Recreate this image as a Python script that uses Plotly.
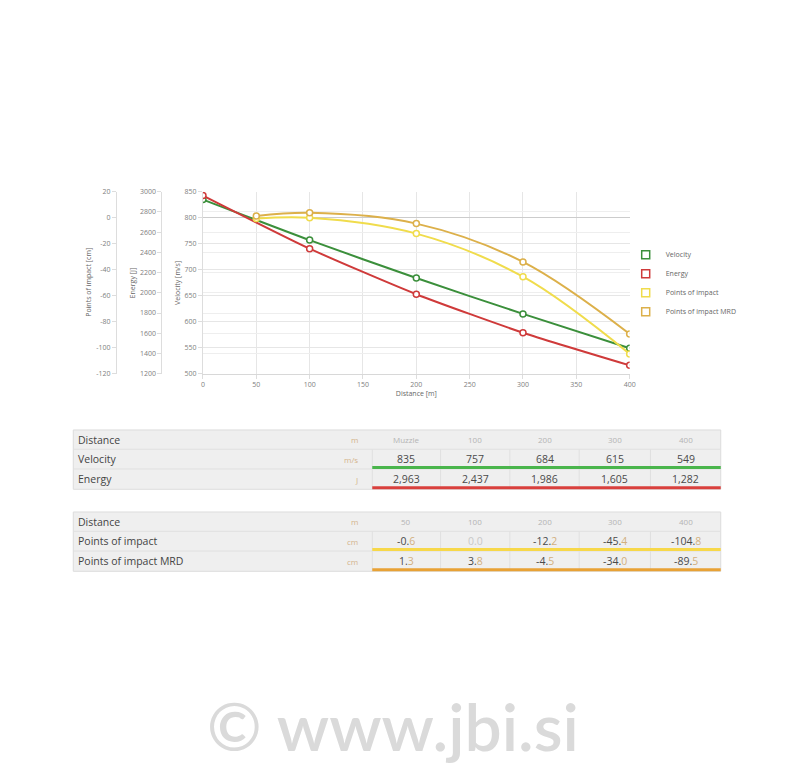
import plotly.graph_objects as go

W, H = 800, 768

# ---------------- data ----------------
dist_ve = [0, 100, 200, 300, 400]
velocity = [835, 757, 684, 615, 549]
energy = [2963, 2437, 1986, 1605, 1282]

dist_poi = [50, 100, 200, 300, 400]
poi = [-0.6, 0.0, -12.2, -45.4, -104.8]
poi_mrd = [1.3, 3.8, -4.5, -34.0, -89.5]

x_ticks = [0, 50, 100, 150, 200, 250, 300, 350, 400]
poi_ticks = [20, 0, -20, -40, -60, -80, -100, -120]
table1_header = ["Muzzle", "100", "200", "300", "400"]
table2_header = ["50", "100", "200", "300", "400"]

# ---------------- styles ----------------
C_VEL = "#3b8f3b"
C_EN = "#cf3a3a"
C_POI = "#f0dc4c"
C_MRD = "#dcb04a"
U_VEL = "#4ab54c"
U_EN = "#d9403d"
U_POI = "#f7d84a"
U_MRD = "#e8a236"
GRID = "#e6e6e6"
TICKF = dict(family="Open Sans", size=7, color="#808080")
FONT = "Open Sans"


def px(x):
    return x / W


def py(y):
    return 1 - y / H


fig = go.Figure()

mk = dict(symbol="circle", size=6, color="white")
fig.add_trace(go.Scatter(x=dist_ve, y=velocity, mode="lines+markers", name="Velocity",
                         line=dict(color=C_VEL, width=2, shape="spline", smoothing=0.6),
                         marker=dict(**mk, line=dict(color=C_VEL, width=1.5)),
                         yaxis="y", showlegend=False))
fig.add_trace(go.Scatter(x=dist_ve, y=energy, mode="lines+markers", name="Energy",
                         line=dict(color=C_EN, width=2, shape="spline", smoothing=0.6),
                         marker=dict(**mk, line=dict(color=C_EN, width=1.5)),
                         yaxis="y2", showlegend=False))
fig.add_trace(go.Scatter(x=dist_poi, y=poi, mode="lines+markers", name="Points of impact",
                         line=dict(color=C_POI, width=2, shape="spline", smoothing=1),
                         marker=dict(**mk, line=dict(color=C_POI, width=1.5)),
                         yaxis="y3", showlegend=False))
fig.add_trace(go.Scatter(x=dist_poi, y=poi_mrd, mode="lines+markers", name="Points of impact MRD",
                         line=dict(color=C_MRD, width=2, shape="spline", smoothing=1),
                         marker=dict(**mk, line=dict(color=C_MRD, width=1.5)),
                         yaxis="y3", showlegend=False))

# legend entries (square symbols)
for name, col in [("Velocity", C_VEL), ("Energy", C_EN),
                  ("Points of impact", C_POI), ("Points of impact MRD", C_MRD)]:
    fig.add_trace(go.Scatter(x=[None], y=[None], mode="markers", name=name,
                             marker=dict(symbol="square", size=8, color="rgba(255,255,255,0.9)",
                                         line=dict(color=col, width=1.5)),
                             showlegend=True))

y_dom = [py(373), py(189)]
common_y = dict(ticks="outside", ticklen=4, tickcolor="#dddddd", showline=True,
                linecolor="#dddddd", tickfont=TICKF)

fig.update_layout(
    width=W, height=H,
    margin=dict(l=0, r=0, t=0, b=0),
    paper_bgcolor="white", plot_bgcolor="white",
    font=dict(family=FONT, color="#555555"),
    xaxis=dict(domain=[px(203), px(634)], range=[0, 400], tickvals=x_ticks,
               showgrid=True, gridcolor=GRID, zeroline=False, showline=True,
               linecolor="#d8d8d8", ticks="outside", ticklen=4, tickcolor="#dddddd",
               tickfont=TICKF,
               title=dict(text="Distance [m]", font=dict(family=FONT, size=7, color="#666666"),
                          standoff=2)),
    yaxis=dict(domain=y_dom, range=[500, 850], dtick=50, anchor="x", side="left",
               showgrid=True, gridcolor=GRID, zeroline=False, **common_y),
    yaxis2=dict(overlaying="y", anchor="free", position=px(161), side="left",
                range=[1200, 3000], dtick=200, showgrid=True, gridcolor="#eeeeee",
                zeroline=False, **common_y),
    yaxis3=dict(overlaying="y", anchor="free", position=px(115), side="left",
                range=[-120, 20], tickvals=poi_ticks, ticktext=[str(t) for t in poi_ticks],
                showgrid=False, zeroline=True, zerolinecolor="#cccccc", zerolinewidth=1,
                **common_y),
    legend=dict(x=px(630), y=py(238), xanchor="left", yanchor="top",
                font=dict(family=FONT, size=7, color="#666666"),
                bgcolor="rgba(0,0,0,0)", tracegroupgap=0, itemwidth=30),
)

ann = []
# y-axis titles
for text, x in [("Points of impact [cm]", 88), ("Energy [J]", 132), ("Velocity [m/s]", 177)]:
    ann.append(dict(x=px(x), y=py(281), xref="paper", yref="paper", text=text, textangle=-90,
                    xanchor="center", yanchor="middle",
                    showarrow=False, font=dict(family=FONT, size=7, color="#666666")))

shapes = []
col_edges = [374, 443, 513, 583, 655, 726]
col_centers = [(col_edges[i] + col_edges[i + 1]) / 2 for i in range(5)]


def fmt_int(v):
    return f"{v:,}"


def fmt_dec(v):
    s = f"{v:.1f}"
    if v == 0:
        return f"<span style='color:#c8c8c8'>{s}</span>"
    head, tail = s.split(".")
    return f"{head}.<span style='color:#d2b07e'>{tail}</span>"


def table(edges, labels, units, header, rows, ulcolors):
    shapes.append(dict(type="rect", xref="paper", yref="paper", x0=px(72), x1=px(726),
                       y0=py(edges[-1]), y1=py(edges[0]), fillcolor="#efefef",
                       line=dict(color="#dcdcdc", width=1), layer="below"))
    for yy in edges[1:-1]:
        shapes.append(dict(type="line", xref="paper", yref="paper", x0=px(72), x1=px(726),
                           y0=py(yy), y1=py(yy), line=dict(color="#e0e0e0", width=1)))
    for ri in range(1, 3):
        for xe in col_edges[:-1]:
            shapes.append(dict(type="line", xref="paper", yref="paper", x0=px(xe), x1=px(xe),
                               y0=py(edges[ri + 1]), y1=py(edges[ri]),
                               line=dict(color="#e0e0e0", width=1)))
    for ri in range(3):
        yc = (edges[ri] + edges[ri + 1]) / 2
        ann.append(dict(x=px(75), y=py(yc), xref="paper", yref="paper", text=labels[ri],
                        xanchor="left", yanchor="middle", showarrow=False,
                        font=dict(family=FONT, size=10.5, color="#444444")))
        ann.append(dict(x=px(362), y=py(yc), xref="paper", yref="paper", text=units[ri],
                        xanchor="right", yanchor="middle", showarrow=False,
                        font=dict(family=FONT, size=8, color="#d4b48c")))
        vals = header if ri == 0 else rows[ri - 1]
        for ci, v in enumerate(vals):
            ann.append(dict(x=px(col_centers[ci]), y=py(yc), xref="paper", yref="paper",
                            text=v, xanchor="center", yanchor="middle", showarrow=False,
                            font=dict(family=FONT, size=8 if ri == 0 else 10.5,
                                      color="#b4b4b4" if ri == 0 else "#4a4a4a")))
    for ri, c in enumerate(ulcolors):
        yy = edges[ri + 2] - 1.5
        shapes.append(dict(type="line", xref="paper", yref="paper", x0=px(374), x1=px(726),
                           y0=py(yy), y1=py(yy), line=dict(color=c, width=3)))


table([430, 449.5, 469.5, 490], ["Distance", "Velocity", "Energy"], ["m", "m/s", "J"],
      table1_header, [[fmt_int(v) for v in velocity], [fmt_int(v) for v in energy]],
      [U_VEL, U_EN])
table([513, 532.5, 552.5, 573], ["Distance", "Points of impact", "Points of impact MRD"],
      ["m", "cm", "cm"], table2_header,
      [[fmt_dec(v) for v in poi], [fmt_dec(v) for v in poi_mrd]], [U_POI, U_MRD])

# watermark
ann.append(dict(x=px(395), y=py(729), xref="paper", yref="paper", text="© www.jbi.si",
                xanchor="center", yanchor="middle", showarrow=False,
                font=dict(family="Lato", size=66, color="#dadada", weight=600)))

fig.update_layout(annotations=ann, shapes=shapes)
fig.write_html("out.html", config={"displayModeBar": False},
               post_script="document.body.style.margin='0';document.body.style.overflow='hidden';")
